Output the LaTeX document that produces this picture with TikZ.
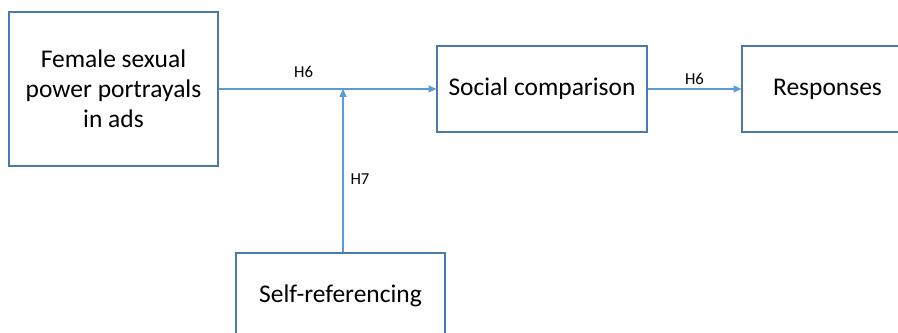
\documentclass[tikz,border=0pt]{standalone}
\usepackage{fontspec}
\setmainfont{Carlito}
\usetikzlibrary{arrows.meta,positioning,calc}
\definecolor{boxBlue}{HTML}{4A7AAC}
\definecolor{lineBlue}{HTML}{5B9BD5}
\tikzset{
  box/.style={draw=boxBlue, line width=0.7pt, fill=white, align=center,
              font=\fontsize{14.5}{17.2}\selectfont, inner sep=0pt,
              minimum height=#1},
  box/.default=1.72cm,
  arr/.style={-{Triangle[length=4.5pt, width=4pt]}, lineBlue, line width=0.6pt},
  hlab/.style={font=\fontsize{9.5}{10}\selectfont, text=black, inner sep=1pt},
}
\begin{document}
\begin{tikzpicture}[x=0.02cm, y=-0.02cm]
    \useasboundingbox (0,0) rectangle (898,333);
    \node[box=3.08cm, minimum width=4.18cm] (fsp) at (113.5,89)
      {Female sexual\\power portrayals\\in ads};
    \node[box, minimum width=4.2cm] (soc) at (542,89) {Social comparison};
    \node[box, minimum width=3.42cm] (resp) at (827.5,89) {Responses};
    \node[box, minimum width=4.18cm] (selfref) at (340.5,296) {Self-referencing};
    \coordinate (mod) at (343,89);
    \draw[arr] (fsp.east |- soc.west) -- node[hlab, above=5pt, pos=0.39] {H6} (soc.west);
    \draw[arr] (soc.east) -- node[hlab, above=1pt] {H6} (resp.west);
    \draw[arr] (selfref.north -| mod) -- node[hlab, right=3pt, pos=0.45] {H7} (mod);
  \end{tikzpicture}
\end{document}
